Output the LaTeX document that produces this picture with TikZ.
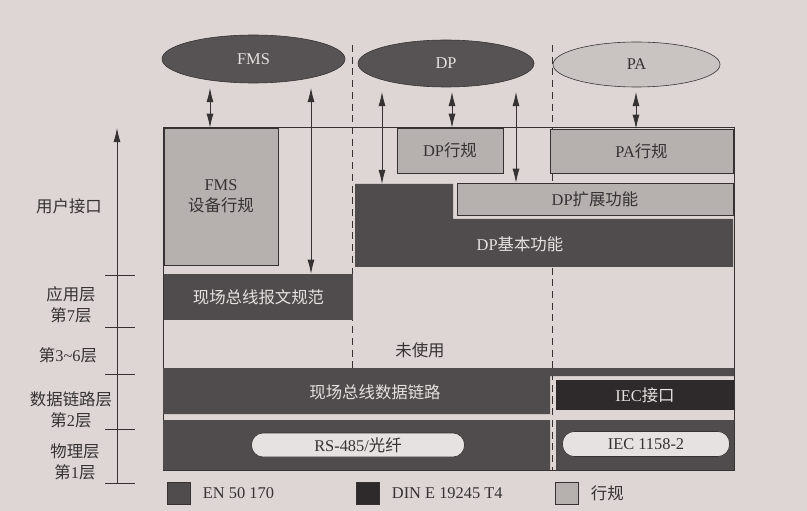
\documentclass[tikz,border=0pt]{standalone}
\usepackage{fontspec}
\setmainfont{Liberation Serif}
\newfontfamily\cjk{Noto Sans CJK SC}
\definecolor{paper}{HTML}{DDD6D4}
\definecolor{ink}{HTML}{363233}
\definecolor{pale}{HTML}{E6E2E1}
\definecolor{midbar}{HTML}{504B4C}
\definecolor{deepbar}{HTML}{2E2A2B}
\definecolor{profile}{HTML}{B6B0AF}
\definecolor{ovaldark}{HTML}{575253}
\definecolor{ovallight}{HTML}{C9C3C2}
\usetikzlibrary{arrows.meta,calc,shapes.geometric}

\begin{document}
\begin{tikzpicture}[x=.03cm,y=-.03cm,font=\fontsize{14}{18}\selectfont,text=ink,
 sz/.style 2 args={minimum width=#1*.03cm,minimum height=#2*.03cm,inner sep=0pt},
 prof/.style={draw=ink,line width=.5pt,fill=profile,align=center},
 bar/.style={fill=midbar,text=pale,inner sep=0pt},
 oval/.style={ellipse,draw=ink,line width=.5pt,inner sep=0pt},
 pill/.style={draw=ink,line width=.5pt,fill=pale,rounded corners=10pt,inner sep=0pt},
 dbl/.style={{Latex[length=12pt,width=6pt]}-{Latex[length=12pt,width=6pt]},line width=.7pt,draw=ink},
 layer/.style={align=center}]
\useasboundingbox[fill=paper](0,0) rectangle (807,511);
% frame and the two dashed separators
\draw[line width=.5pt,draw=ink](163,127) rectangle (734,470);
\draw[line width=.6pt,draw=ink,dash pattern=on 6pt off 4pt](352.5,45)--(352.5,368) (552,45)--(552,470);
% protocols on top
\node[oval,fill=ovaldark,text=pale,sz={183}{48}](fms) at (253.5,59){FMS};
\node[oval,fill=ovaldark,text=pale,sz={176}{47}](dp) at (446,63.5){DP};
\node[oval,fill=ovallight,sz={167}{45}](pa) at (636.5,64.5){PA};
% user interface and layer 7
\node[prof,sz={114}{137}](fmsprof) at (221,196.5){FMS\\{\cjk 设备行规}};
\node[bar,sz={189}{46}](fmsmsg) at (258.5,297){\cjk 现场总线报文规范};
\node[prof,sz={106}{45}](dpprof) at (450,150.5){DP{\cjk 行规}};
\node[prof,sz={183}{44}](paprof) at (641.5,151){PA{\cjk 行规}};
\node[prof,sz={276}{32}](dpext) at (595,199){DP{\cjk 扩展功能}};
\fill[midbar](355,184)--(453,184)--(453,219)--(733,219)--(733,267)--(355,267)--cycle;
\node[text=pale](dpbase) at (520,244){DP{\cjk 基本功能}};
\coordinate(dpbasetop) at (404,184);
\node(unused) at (420,350){\cjk 未使用};
% layers 2 and 1
\fill[midbar](163,368)--(734,368)--(734,376)--(550,376)--(550,414)--(163,414)--cycle;
\node[text=pale](dlink) at (375,392){\cjk 现场总线数据链路};
\node[bar,fill=deepbar,sz={178}{30}](iec) at (645,395){IEC{\cjk 接口}};
\fill[midbar](163,420) rectangle (550,470) (556,420) rectangle (734,470);
\node[pill,sz={213}{24}](rs) at (358,445){RS-485/{\cjk 光纤}};
\node[pill,sz={167}{25}](iecphy) at (646,444){IEC 1158-2};
\foreach \src/\xx/\dst in {fms/210/fmsprof.north,fms/311/fmsmsg.north,dp/382/dpbasetop,dp/452/dpprof.north,dp/516/dpext.north,pa/636/paprof.north}
 \draw[dbl,shorten <=4pt](\xx,0 |- \src.south)--(\xx,0 |- \dst);
% layer scale on the left
\draw[-{Latex[length=12pt,width=6pt]},line width=.7pt,draw=ink](117,483)--(117,128);
\foreach \yy in {275,327,374,429,483}{\draw[line width=.7pt,draw=ink](105,\yy)--(135,\yy);}
\node[layer](lyuser) at (69,206){\cjk 用户接口};
\node[layer](lyapp) at (71,305){{\cjk 应用层}\\{\cjk 第}7{\cjk 层}};
\node[layer](lymid) at (68,355){{\cjk 第}3\textasciitilde 6{\cjk 层}};
\node[layer](lylink) at (71,410){{\cjk 数据链路层}\\{\cjk 第}2{\cjk 层}};
\node[layer](lyphy) at (75,462){{\cjk 物理层}\\{\cjk 第}1{\cjk 层}};
% legend
\foreach \kname/\xx/\col/\lab in {en/167/midbar/{EN 50 170},din/356/deepbar/{DIN E 19245 T4},prof/555/profile/{{\cjk 行规}}}{
 \node[draw=ink,line width=.5pt,fill=\col,sz={23}{22},anchor=west](key\kname) at (\xx,493){};
 \node[anchor=west](lab\kname) at ([xshift=7pt]key\kname.east){\lab};}
\end{tikzpicture}
\end{document}
